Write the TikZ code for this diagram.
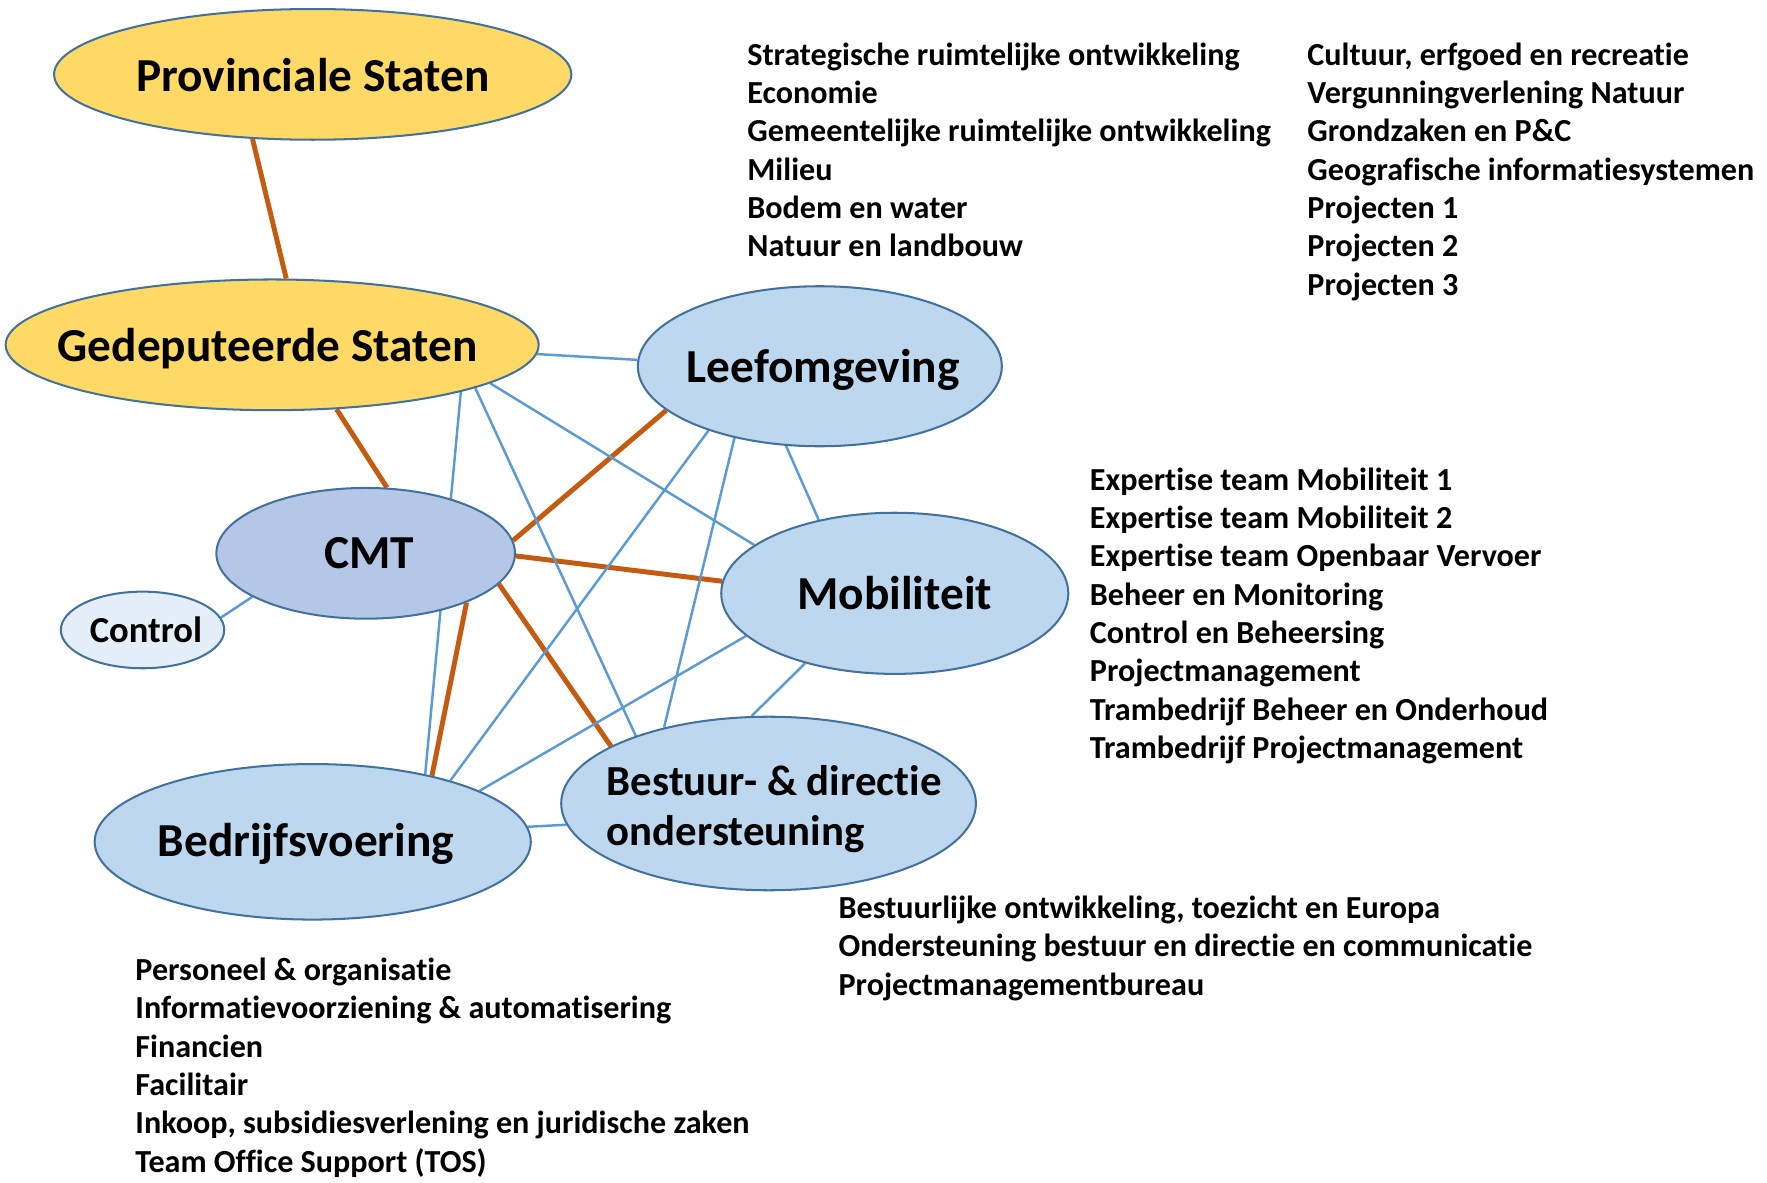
\documentclass[tikz,border=0pt]{standalone}
\usepackage{fontspec}
\setmainfont{Carlito}[RawFeature={-liga;-clig;-dlig;-calt}]
\usepackage{xcolor}
\usepackage{tikz}
\usetikzlibrary{positioning, shapes.geometric}
\pgfdeclarelayer{background}
\pgfsetlayers{background,main}

\definecolor{psyellow}{HTML}{FFD966}
\definecolor{deptblue}{HTML}{BDD7EE}
\definecolor{cmtblue}{HTML}{B4C7E7}
\definecolor{ctrlblue}{HTML}{E4EEF9}
\definecolor{rimblue}{HTML}{41719C}
\definecolor{linkblue}{HTML}{5B9BD5}
\definecolor{leadorange}{HTML}{C55A11}

\begin{document}
\begin{tikzpicture}[x=1pt, y=1pt]
\tikzstyle{orgel}   = [ellipse, draw=rimblue, line width=1.8pt, inner sep=0pt]
\tikzstyle{orgname} = [inner sep=0pt, align=left, font=\fontsize{42}{50}\selectfont\bfseries]
\tikzstyle{teams}   = [anchor=base west, align=left, inner sep=0pt, font=\fontsize{28.5}{34}\selectfont\bfseries]
\tikzstyle{lead}    = [draw=leadorange, line width=4.4pt]
\tikzstyle{link}    = [draw=linkblue, line width=2.2pt]
\useasboundingbox (0,0) rectangle (1568,-1049);
\node[orgel, fill=psyellow, minimum width=459, minimum height=116] at (277.50, -66.00) (ps){};
\node[orgname] at ([yshift=-1]ps.center) (psname){Provinciale Staten};
\node[orgel, fill=psyellow, minimum width=473, minimum height=116] at (241.50, -306.00) (gs){};
\node[orgname] at ([xshift=-4, yshift=-3]gs.center) (gsname){Gedeputeerde Staten};
\node[orgel, fill=deptblue, minimum width=323, minimum height=142] at (727.50, -325.00) (leef){};
\node[orgname] at ([xshift=3, yshift=-3]leef.center) (leefname){Leefomgeving};
\node[orgel, fill=cmtblue, minimum width=265, minimum height=116] at (324.50, -491.00) (cmt){};
\node[orgname] at ([xshift=3]cmt.center) (cmtname){CMT};
\node[orgel, fill=ctrlblue, minimum width=145, minimum height=68] at (126.50, -559.00) (ctrl){};
\node[orgname, font=\fontsize{32.5}{38}\selectfont\bfseries] at ([xshift=3]ctrl.center) (ctrlname){Control};
\node[orgel, fill=deptblue, minimum width=308, minimum height=143] at (794.00, -526.50) (mob){};
\node[orgname] at (mob.center) (mobname){Mobiliteit};
\node[orgel, fill=deptblue, minimum width=368, minimum height=154] at (682.00, -713.00) (best){};
\node[orgname, font=\fontsize{38}{45}\selectfont\bfseries] at ([xshift=5, yshift=-5]best.center) (bestname){Bestuur- \& directie\\ondersteuning};
\node[orgel, fill=deptblue, minimum width=387, minimum height=138] at (277.50, -747.00) (bedr){};
\node[orgname] at ([xshift=-6, yshift=-2]bedr.center) (bedrname){Bedrijfsvoering};
% afdelingen / teams (base = laatste regel)
\node[teams] at (663, -228) (leefteams1){Strategische ruimtelijke ontwikkeling\\Economie\\Gemeentelijke ruimtelijke ontwikkeling\\Milieu\\Bodem en water\\Natuur en landbouw};
\node[teams] at (1160, -262) (leefteams2){Cultuur, erfgoed en recreatie\\Vergunningverlening Natuur\\Grondzaken en P\&C\\Geografische informatiesystemen\\Projecten 1\\Projecten 2\\Projecten 3};
\node[teams] at (967, -673) (mobteams){Expertise team Mobiliteit 1\\Expertise team Mobiliteit 2\\Expertise team Openbaar Vervoer\\Beheer en Monitoring\\Control en Beheersing\\Projectmanagement\\Trambedrijf Beheer en Onderhoud\\Trambedrijf Projectmanagement};
\node[teams] at (744, -883) (bestteams){Bestuurlijke ontwikkeling, toezicht en Europa\\Ondersteuning bestuur en directie en communicatie\\Projectmanagementbureau};
\node[teams] at (120, -1040) (bedrteams){Personeel \& organisatie\\Informatievoorziening \& automatisering\\Financien\\Facilitair\\Inkoop, subsidiesverlening en juridische zaken\\Team Office Support (TOS)};
\begin{pgfonlayer}{background}
\draw[lead] (ps.-133.2)  -- (gs.78.8);
\draw[lead] (gs.-45.7)   -- (cmt.72.3);
\draw[lead] (cmt.5.8)    -- (leef.196.7);
\draw[lead] (cmt.-1.3)   -- (mob.176.8);
\draw[lead] (cmt.-13)    -- (best.160.2);
\draw[lead] (cmt.-26.4)  -- (bedr.29.7);
\draw[link] (gs.-2.2)    -- (leef.178.6);
\draw[link] (gs.-14.5)   -- (bedr.31.7);
\draw[link] (gs.-12.8)   -- (best.153.4);
\draw[link] (gs.-10.1)   -- (mob.161);
\draw[link] (leef.-150.6) -- (bedr.24.2);
\draw[link] (leef.-140.6) -- (best.144.6);
\draw[link] (leef.-113.2) -- (mob.136);
\draw[link] (mob.-164.8) -- (bedr.17.1);
\draw[link] (mob.-142.8) -- (best.101);
\draw[link] (bedr.4.8)   -- (best.-174.6);
\draw[link] (cmt.-159.2) -- (ctrl.9.7);
\end{pgfonlayer}
\end{tikzpicture}
\end{document}
